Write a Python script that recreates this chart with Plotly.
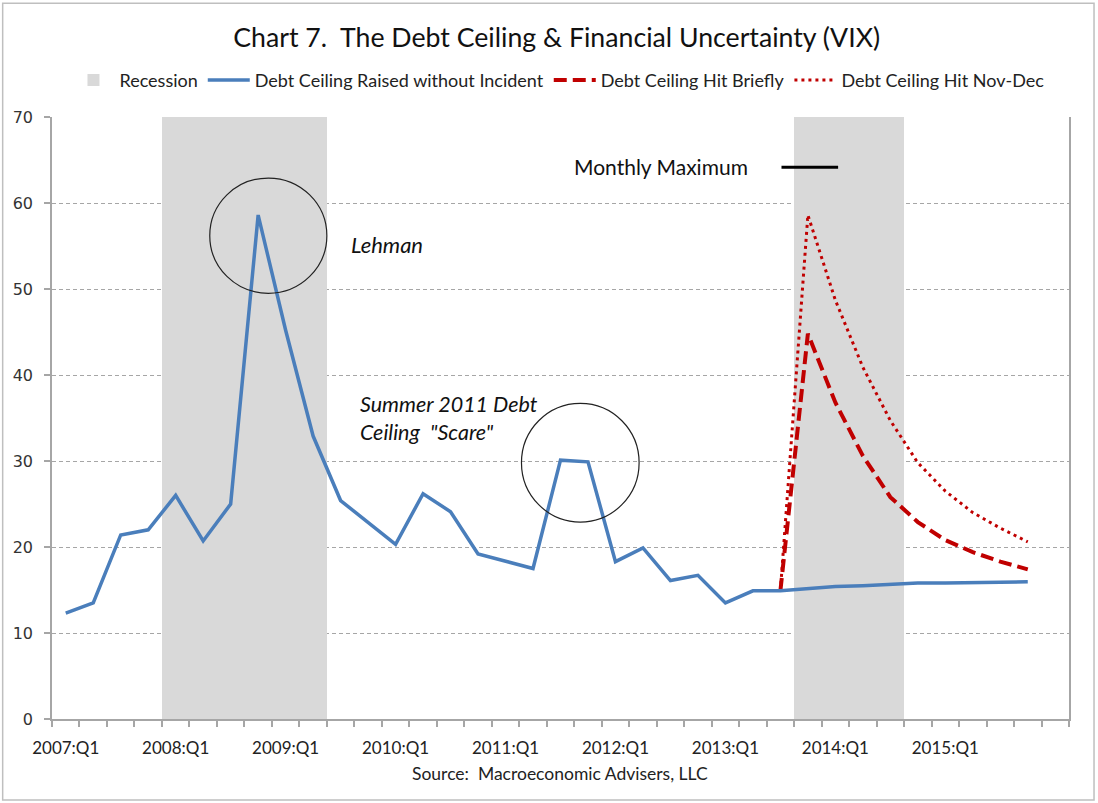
import plotly.graph_objects as go

quarters = [
    "2007:Q1", "2007:Q2", "2007:Q3", "2007:Q4",
    "2008:Q1", "2008:Q2", "2008:Q3", "2008:Q4",
    "2009:Q1", "2009:Q2", "2009:Q3", "2009:Q4",
    "2010:Q1", "2010:Q2", "2010:Q3", "2010:Q4",
    "2011:Q1", "2011:Q2", "2011:Q3", "2011:Q4",
    "2012:Q1", "2012:Q2", "2012:Q3", "2012:Q4",
    "2013:Q1", "2013:Q2", "2013:Q3", "2013:Q4",
    "2014:Q1", "2014:Q2", "2014:Q3", "2014:Q4",
    "2015:Q1", "2015:Q2", "2015:Q3", "2015:Q4",
    "2016:Q1",
]

tick_labels = ["2007:Q1", "2008:Q1", "2009:Q1", "2010:Q1", "2011:Q1",
               "2012:Q1", "2013:Q1", "2014:Q1", "2015:Q1"]

recession = [None, None, None, None, 70, 70, 70, 70, 70, 70,
             None, None, None, None, None, None, None, None, None, None,
             None, None, None, None, None, None, None, 70, 70, 70, 70,
             None, None, None, None, None, None]

vix_no_incident = [12.3, 13.5, 21.4, 22.0, 26.0, 20.7, 25.0, 58.6, 45.2, 32.9,
                   25.4, 22.8, 20.3, 26.2, 24.1, 19.2, 18.4, 17.5, 30.1, 29.9,
                   18.3, 19.9, 16.1, 16.7, 13.5, 14.9, 14.9, 15.2, 15.4, 15.5,
                   15.7, 15.8, 15.8, 15.8, 15.9, 15.95, None]

vix_hit_briefly = [None] * 26 + [14.9, 44.8, 36.8, 30.6, 25.8, 22.9, 20.8,
                                 19.4, 18.3, 17.4, None]

vix_hit_novdec = [None] * 26 + [14.9, 58.6, 48.7, 40.9, 34.7, 29.8, 26.5,
                                24.0, 22.2, 20.6, None]

x = list(range(len(quarters)))
tickvals = [quarters.index(t) for t in tick_labels]

BLUE = "#4A7EBB"
RED = "#C00000"
GRAY = "#A6A6A6"
FONT = "Lato"

fig = go.Figure()

fig.add_trace(go.Bar(
    x=x, y=recession, name="Recession", width=1.0,
    marker=dict(color="#D9D9D9", line=dict(width=0)),
    legendrank=1, hoverinfo="skip",
))
fig.add_trace(go.Scatter(
    x=x, y=vix_hit_novdec, name="Debt Ceiling Hit Nov-Dec", mode="lines",
    line=dict(color=RED, width=3, dash="3px,4px"), legendrank=4,
))
fig.add_trace(go.Scatter(
    x=x, y=vix_hit_briefly, name="Debt Ceiling Hit Briefly", mode="lines",
    line=dict(color=RED, width=4, dash="13px,6px"), legendrank=3,
))
fig.add_trace(go.Scatter(
    x=x, y=vix_no_incident, name="Debt Ceiling Raised without Incident",
    mode="lines", line=dict(color=BLUE, width=3.5), legendrank=2,
))

# circles around episodes
fig.add_shape(type="circle", xref="x", yref="y", x0=5.24, x1=9.5, y0=49.5, y1=62.9,
              line=dict(color="#222222", width=1.2))
fig.add_shape(type="circle", xref="x", yref="y", x0=16.58, x1=20.86, y0=22.9, y1=36.7,
              line=dict(color="#222222", width=1.2))
# monthly maximum marker
fig.add_shape(type="line", xref="x", yref="y", x0=26.04, x1=28.1, y0=64.17, y1=64.17,
              line=dict(color="black", width=3))
# outer border
fig.add_shape(type="rect", xref="paper", yref="paper", x0=-0.0485, x1=1.0246,
              y0=-0.1347, y1=1.1888, line=dict(color="#BFBFBF", width=1.5))

fig.add_annotation(x=10.3, y=55.2, xref="x", yref="y", text="<i>Lehman</i>",
                   showarrow=False, xanchor="left", yanchor="middle",
                   font=dict(family=FONT, size=22, color="#111111"))
fig.add_annotation(x=10.63, y=35.0, xref="x", yref="y",
                   text="<i>Summer 2011 Debt<br>Ceiling\u00a0 \"Scare\"</i>",
                   showarrow=False, xanchor="left", yanchor="middle", align="left",
                   font=dict(family=FONT, size=21.5, color="#111111"))
fig.add_annotation(x=18.41, y=64.2, xref="x", yref="y", text="Monthly Maximum",
                   showarrow=False, xanchor="left", yanchor="middle",
                   font=dict(family=FONT, size=21, color="#111111"))
fig.add_annotation(x=0.4994, y=-0.0898, xref="paper", yref="paper",
                   text="Source:\u00a0 Macroeconomic Advisers, LLC",
                   showarrow=False, xanchor="center", yanchor="middle",
                   font=dict(family=FONT, size=17.5, color="#222222"))

fig.update_layout(
    width=1098, height=803,
    margin=dict(l=52, r=29, t=117, b=84),
    paper_bgcolor="white", plot_bgcolor="white",
    bargap=0,
    showlegend=True,
    title=dict(text="Chart 7.\u00a0 The Debt Ceiling & Financial Uncertainty (VIX)",
               x=0.507, y=0.9527, xanchor="center", yanchor="middle",
               font=dict(family=FONT, size=26.7, color="#111111")),
    legend=dict(orientation="h", x=0.498, y=1.061, xanchor="center", yanchor="middle",
                font=dict(family=FONT, size=18, color="#222222"),
                bgcolor="rgba(0,0,0,0)", traceorder="normal", itemwidth=42),
    font=dict(family=FONT),
)

fig.update_xaxes(
    range=[-0.5, 36.5], tickmode="array", tickvals=tickvals, ticktext=tick_labels,
    ticks="outside", ticklen=0, ticklabelstandoff=13,
    tickfont=dict(family=FONT, size=17, color="#222222"),
    showgrid=False, zeroline=False, showline=True, linecolor=GRAY, linewidth=1.5,
    minor=dict(tickmode="linear", tick0=-0.5, dtick=1, ticks="outside", ticklen=6,
               tickcolor=GRAY, tickwidth=1.5, showgrid=False),
)
fig.update_yaxes(
    range=[0, 70], dtick=10, ticks="outside", ticklen=6, tickcolor=GRAY, tickwidth=1.5,
    tickfont=dict(family="DejaVu Sans", size=16, color="#333333"),
    showgrid=True, gridcolor=GRAY, gridwidth=1, griddash="4px,3px",
    zeroline=False, showline=True, linecolor=GRAY, linewidth=1.5, mirror=True,
    ticklabelstandoff=8,
)

fig.write_html("out.html")
